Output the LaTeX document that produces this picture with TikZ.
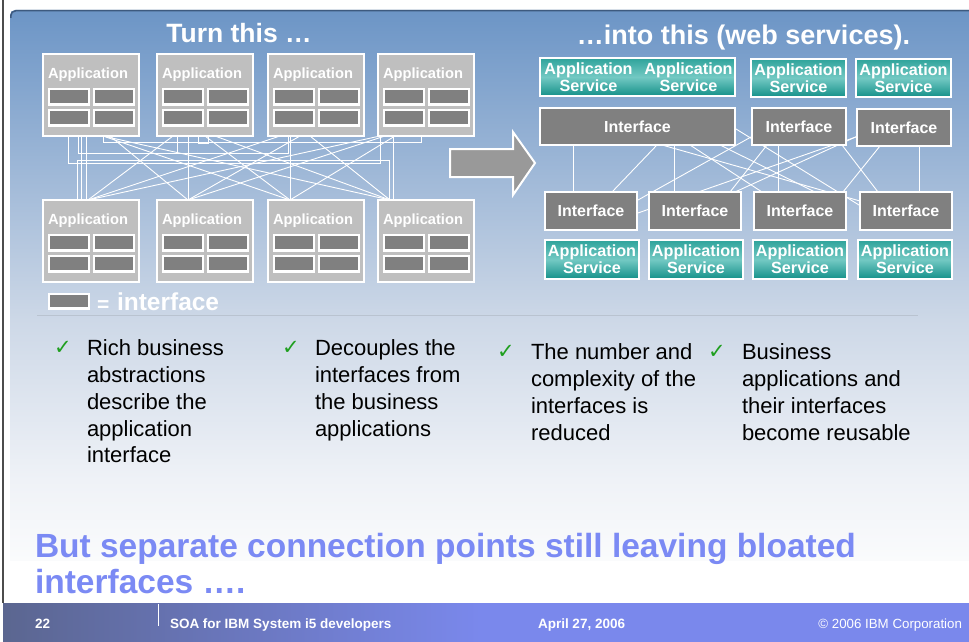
\documentclass[tikz,border=0pt]{standalone}
\usepackage{fontspec}
\setmainfont{Liberation Sans}
\newfontfamily\dejavu{DejaVu Sans}
\usetikzlibrary{calc}
\definecolor{appgray}{HTML}{BFBFBF}
\definecolor{ifgray}{HTML}{808080}
\definecolor{arrowgray}{HTML}{999999}
\definecolor{tealtop}{HTML}{2EA39B}
\definecolor{tealmid}{HTML}{73C9C3}
\definecolor{tealbot}{HTML}{149089}
\definecolor{panelA}{HTML}{6C95C6}
\definecolor{panelB}{HTML}{CDD8E7}
\definecolor{panelC}{HTML}{EFF2F7}
\definecolor{panelD}{HTML}{FAFBFC}
\definecolor{topline}{HTML}{3D5A7F}
\definecolor{sepgray}{HTML}{B9C3D0}
\definecolor{footblue}{HTML}{7A88EC}
\definecolor{footdark}{HTML}{5B6690}
\definecolor{titleblue}{HTML}{7B8AF4}
\definecolor{chkgreen}{HTML}{1F9F1F}
\pgfdeclarelayer{bg}
\pgfdeclarelayer{net}
\pgfsetlayers{bg,net,main}
\newcommand\mkappbox[3]{%
  \node[appbox] (#1) at (#2,#3) {};
  \node[applabel] (#1t) at ($(#1.north west)+(5,24)$) {Application};
  \node[ifsmall] (#1a) at ($(#1.north west)+(6,35)$) {};
  \node[ifsmall] (#1b) at ($(#1.north west)+(51,35)$) {};
  \node[ifsmall] (#1c) at ($(#1.north west)+(6,56)$) {};
  \node[ifsmall] (#1d) at ($(#1.north west)+(51,56)$) {};}
\newcommand\lnk[4]{\draw[netline] ($(#1.south west)+(#2,0)$) -- ($(#3.north west)+(#4,0)$);}
\begin{document}
\begin{tikzpicture}[x=1pt,y=-1pt,
  every node/.style={inner sep=0pt, outer sep=0pt},
  appbox/.style={draw=white, line width=2pt, fill=appgray, minimum width=96pt, minimum height=82pt, anchor=north west},
  ifsmall/.style={draw=white, line width=2.5pt, fill=ifgray, minimum width=40pt, minimum height=15.5pt, anchor=north west},
  applabel/.style={text=white, font=\bfseries\fontsize{14.7}{16}\selectfont, anchor=base west},
  svc/.style={draw=white, line width=1.5pt, top color=tealtop, bottom color=tealbot, middle color=tealmid, text=white, font=\bfseries\fontsize{16.2}{17}\selectfont, align=center, anchor=north west, minimum height=38pt},
  svctext/.style={text=white, font=\bfseries\fontsize{16.2}{17}\selectfont, align=center},
  ifbig/.style={draw=white, line width=2pt, fill=ifgray, text=white, font=\bfseries\fontsize{16}{19}\selectfont, anchor=north west, minimum height=37pt},
  netline/.style={draw=white, line width=0.9pt},
  bullet/.style={font=\fontsize{22}{26.7}\selectfont, align=left, anchor=north west, text=black},
  chk/.style={font=\dejavu\fontsize{21}{24}\selectfont, text=chkgreen, anchor=base west},
  foot/.style={text=white, font=\bfseries\fontsize{13.5}{16}\selectfont, anchor=base west}]
\useasboundingbox (0,0) rectangle (969,642);

% ---------- background ----------
\begin{pgfonlayer}{bg}
\fill[white] (0,0) rectangle (969,642);
\shade[top color=panelA, bottom color=panelB] (10,320) [rounded corners=5pt] -- (10,10) [sharp corners] -- (969,10) -- (969,320) -- cycle;
\shade[top color=panelB, bottom color=panelC] (10,319.5) rectangle (969,480);
\shade[top color=panelC, bottom color=panelD] (10,479.5) rectangle (969,560);
\draw[topline, line width=1.5pt] (10.75,18) [rounded corners=5pt] -- (10.75,10.75) -- (969,10.75);
\draw[black!70, line width=1.2pt] (3,0) -- (3,603);
\draw[sepgray, line width=1pt] (37,315) -- (918,315);
\fill[footblue] (3,603) rectangle (969,642);
\shade[left color=footdark, right color=footblue] (3,603) rectangle (480,642);
\end{pgfonlayer}

% ---------- titles ----------
\node[anchor=base, text=white, font=\bfseries\fontsize{26.5}{30}\selectfont] (t1) at (239,42.5) {Turn this …};
\node[anchor=base, text=white, font=\bfseries\fontsize{27}{30}\selectfont] (t2) at (743.5,45) {…into this (web services).};

% ---------- left: applications ----------
\mkappbox{T1}{43}{54}
\mkappbox{T2}{157}{54}
\mkappbox{T3}{268}{54}
\mkappbox{T4}{378}{54}
\mkappbox{B1}{43}{200}
\mkappbox{B2}{157}{200}
\mkappbox{B3}{268}{200}
\mkappbox{B4}{378}{200}

\begin{pgfonlayer}{net}
\lnk{T1}{60}{B4}{12}
\lnk{T1}{60}{B3}{22}
\lnk{T1}{67}{B2}{31}
\lnk{T2}{16}{B1}{45}
\lnk{T2}{48}{B3}{22}
\lnk{T2}{58}{B4}{12}
\lnk{T3}{12}{B1}{45}
\lnk{T3}{32}{B2}{31}
\lnk{T3}{42}{B4}{12}
\lnk{T4}{2}{B1}{45}
\lnk{T4}{7}{B2}{31}
\lnk{T4}{17}{B3}{22}
\lnk{T1}{38}{B1}{38}
\lnk{T1}{43}{B1}{43}
\lnk{T2}{31}{B2}{31}
\lnk{T3}{22}{B3}{22}
\lnk{T4}{15}{B4}{15}
\draw[netline] ($(T1.south west)+(25,0)$) -- ++(0,27) -| ($(T4.south west)+(2,0)$);
\draw[netline] ($(T1.south west)+(35,0)$) -- ++(0,17) -| ($(T3.south west)+(20,0)$);
\draw[netline] ($(T1.south west)+(60,0)$) -- ++(0,6) -| ($(T4.south west)+(43,0)$);
\draw[netline] ($(T2.south west)+(20,0)$) -- ++(0,17) -| ($(T3.south west)+(20,0)$);
\draw[netline] ($(T2.south west)+(41,0)$) -- ++(0,7) -| ($(T2.south west)+(51,0)$);
\draw[netline] ($(B1.north west)+(34,0)$) -- ++(0,-40) -| ($(B4.north west)+(11,0)$);
\end{pgfonlayer}

% legend
\node[ifsmall, minimum height=14.5pt] (leg) at (49,294) {};
\node[anchor=base west, text=white, font=\bfseries\fontsize{21}{24}\selectfont] (eq) at (97,311) {=};
\node[anchor=base west, text=white, font=\bfseries\fontsize{24.5}{28}\selectfont] (legt) at (117,310) {interface};

% arrow
\draw[draw=white, line width=2pt, fill=arrowgray] (450,149) -- (513,149) -- (513,132) -- (535,163) -- (513,195) -- (513,177) -- (450,177) -- cycle;

% ---------- right: services ----------
\node[svc, minimum width=195pt] (A) at (540,58) {};
\node[svctext] (A1) at ($(A.center)+(-49,0)$) {Application\\Service};
\node[svctext] (A2) at ($(A.center)+(51,0)$) {Application\\Service};
\node[svc, minimum width=95pt] (SB) at (751,59) {Application\\Service};
\node[svc, minimum width=95pt] (SC) at (856,59) {Application\\Service};

\node[ifbig, minimum width=195pt] (I1) at (540,108) {Interface};
\node[ifbig, minimum width=94pt] (I2) at (752,108) {Interface};
\node[ifbig, minimum width=94pt] (I3) at (857,109) {Interface};

\node[ifbig, minimum width=92pt, minimum height=38pt] (J1) at (545,192) {Interface};
\node[ifbig, minimum width=92pt, minimum height=38pt] (J2) at (649,192) {Interface};
\node[ifbig, minimum width=92pt, minimum height=38pt] (J3) at (754,192) {Interface};
\node[ifbig, minimum width=92pt, minimum height=38pt] (J4) at (860,192) {Interface};

\node[svc, minimum width=94pt, minimum height=39pt] (S1) at (545,240) {Application\\Service};
\node[svc, minimum width=94pt, minimum height=39pt] (S2) at (649,240) {Application\\Service};
\node[svc, minimum width=94pt, minimum height=39pt] (S3) at (753,240) {Application\\Service};
\node[svc, minimum width=94pt, minimum height=39pt] (S4) at (858,240) {Application\\Service};

\begin{pgfonlayer}{net}
\lnk{I1}{33}{J1}{28}
\lnk{I1}{117}{J1}{67}
\lnk{I1}{134}{J2}{25}
\draw[netline] ($(I1.south west)+(122,0)$) -- ($(J4.north west)+(0,9)$);
\lnk{I1}{150}{J3}{8}
\lnk{I1}{180}{J3}{61}
\draw[netline] ($(I1.north east)+(-20,8)$) -- ($(J4.north west)+(20,26)$);
\draw[netline] ($(J1.north west)+(65,23.6)$) -- ($(I2.north west)+(18,18.4)$);
\draw[netline] ($(J1.north west)+(70,29)$) -- ($(I3.north west)+(23,19.6)$);
\lnk{I2}{26}{J3}{24}
\lnk{I2}{15}{J2}{81}
\lnk{I2}{90}{J4}{18}
\lnk{I3}{23}{J3}{89}
\draw[netline] ($(I3.north west)+(13,21.4)$) -- ($(J2.north west)+(86,0)$);
\lnk{I3}{62}{J4}{59}
\end{pgfonlayer}

% ---------- bullets ----------
\node[chk] (c1) at (54,354) {✓};
\node[chk] (c2) at (282,354) {✓};
\node[chk] (c3) at (497,358) {✓};
\node[chk] (c4) at (708,358) {✓};
\node[bullet] (p1) at (87,337.3) {\strut Rich business\\abstractions\\describe the\\application\\interface};
\node[bullet] (p2) at (315,337.3) {\strut Decouples the\\interfaces from\\the business\\applications};
\node[bullet] (p3) at (531,341.3) {\strut The number and\\complexity of the\\interfaces is\\reduced};
\node[bullet] (p4) at (742,341.3) {\strut Business\\applications and\\their interfaces\\become reusable};

% ---------- conclusion ----------
\node[anchor=north west, align=left, text=titleblue, font=\bfseries\fontsize{33.5}{36}\selectfont] (concl) at (35,531.8) {\strut But separate connection points still leaving bloated\\interfaces ….};

% ---------- footer ----------
\draw[white, line width=0.8pt] (158,604) -- (158,626);
\node[foot] (pg) at (35,628) {22};
\node[foot] (ft1) at (170,628) {SOA for IBM System i5 developers};
\node[foot] (ft2) at (538,628) {April 27, 2006};
\node[foot, font=\fontsize{13.3}{16}\selectfont, anchor=base east] (ft3) at (962,628) {© 2006 IBM Corporation};
\end{tikzpicture}
\end{document}
